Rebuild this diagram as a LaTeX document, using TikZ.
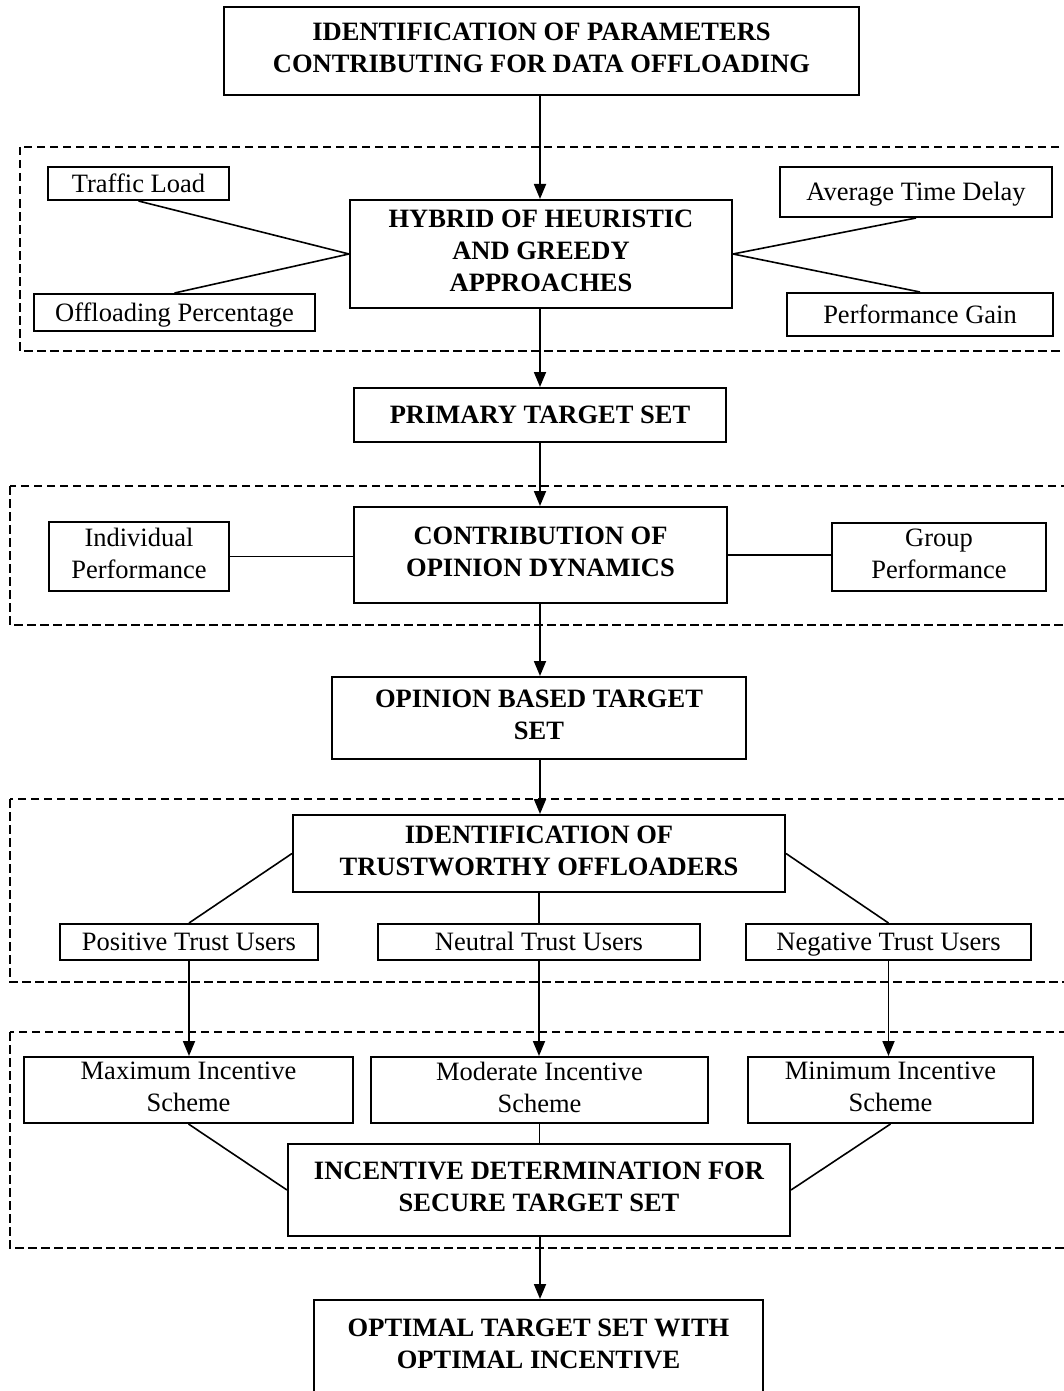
\documentclass[tikz,border=0pt]{standalone}
\usepackage{fontspec}
\setmainfont{Liberation Serif}
\usetikzlibrary{arrows.meta}
\newcommand\vstrut{\rule[-6pt]{0pt}{29.6pt}}
\begin{document}
\begin{tikzpicture}[x=1pt,y=-1pt,
  box/.style={draw,line width=2pt,inner sep=0pt,align=center,
    font=\fontsize{26.5}{32}\selectfont,
    execute at begin node=\vstrut, execute at end node=\vstrut},
  bbox/.style={box,font=\fontsize{26.5}{32}\selectfont\bfseries},
  grp/.style={line width=1.4pt,dash pattern=on 8.5pt off 4.5pt},
  arr/.style={line width=1.8pt,-{Triangle[length=15pt,width=12pt]}},
  ln/.style={line width=1.6pt}]
\useasboundingbox (0,0) rectangle (1064,1391);
\clip (0,0) rectangle (1064,1391);
\coordinate (spine) at (540,0);

% dashed groups
\draw[grp] (20,147) rectangle (1070,351);
\draw[grp] (10,486) rectangle (1070,625);
\draw[grp] (10,799) rectangle (1070,982);
\draw[grp] (10,1032) rectangle (1070,1248);

% main column
\node[bbox,minimum width=635,minimum height=88] (top) at (541.5,51)
  {IDENTIFICATION OF PARAMETERS\\CONTRIBUTING FOR DATA OFFLOADING};
\node[bbox,minimum width=382,minimum height=108] (hyb) at (541,254)
  {HYBRID OF HEURISTIC\\AND GREEDY\\APPROACHES};
\node[bbox,minimum width=372,minimum height=54] (pri) at (540,415)
  {PRIMARY TARGET SET};
\node[bbox,minimum width=373,minimum height=96] (con) at (540.5,555)
  {CONTRIBUTION OF\\OPINION DYNAMICS};
\node[bbox,minimum width=414,minimum height=82] (opi) at (539,718)
  {OPINION BASED TARGET\\SET};
\node[bbox,minimum width=492,minimum height=77] (id2) at (539,853.5)
  {IDENTIFICATION OF\\TRUSTWORTHY OFFLOADERS};
\node[bbox,minimum width=502,minimum height=92] (inc) at (539,1190)
  {INCENTIVE DETERMINATION FOR\\SECURE TARGET SET};
\node[bbox,minimum width=449,minimum height=94] (fin) at (538.5,1347)
  {OPTIMAL TARGET SET WITH\\OPTIMAL INCENTIVE};

% side boxes
\node[box,minimum width=181,minimum height=33] (tl) at (138.5,183.5) {Traffic Load};
\node[box,minimum width=281,minimum height=37] (op) at (174.5,312.5) {Offloading Percentage};
\node[box,minimum width=272,minimum height=50] (atd) at (916,192) {Average Time Delay};
\node[box,minimum width=266,minimum height=43] (pg) at (920,314.5) {Performance Gain};
\node[box,minimum width=180,minimum height=69] (ind) at (139,556.5) {Individual\\Performance};
\node[box,minimum width=214,minimum height=68] (grpp) at (939,557) {Group\\Performance};
\node[box,minimum width=258,minimum height=36] (pos) at (189,942) {Positive Trust Users};
\node[box,minimum width=322,minimum height=36] (neu) at (539,942) {Neutral Trust Users};
\node[box,minimum width=285,minimum height=36] (neg) at (888.5,942) {Negative Trust Users};
\node[box,minimum width=329,minimum height=66] (max) at (188.5,1090) {Maximum Incentive\\Scheme};
\node[box,minimum width=337,minimum height=66] (mod) at (539.5,1090) {Moderate Incentive\\Scheme};
\node[box,minimum width=285,minimum height=66] (min) at (890.5,1090) {Minimum Incentive\\Scheme};

% arrows along the spine
\draw[arr] (top.south -| spine) -- (hyb.north -| spine);
\draw[arr] (hyb.south -| spine) -- (pri.north -| spine);
\draw[arr] (pri.south -| spine) -- (con.north -| spine);
\draw[arr] (con.south -| spine) -- (opi.north -| spine);
\draw[arr] (opi.south -| spine) -- (id2.north -| spine);
\draw[arr] (inc.south -| spine) -- (fin.north -| spine);
\draw[arr] (pos.south) -- (pos.south |- max.north);
\draw[arr] (neu.south) -- (neu.south |- mod.north);
\draw[arr] (neg.south) -- (neg.south |- min.north);

% plain connectors
\draw[ln] (tl.south) -- (hyb.west);
\draw[ln] (op.north) -- (hyb.west);
\draw[ln] (atd.south) -- (hyb.east);
\draw[ln] (pg.north) -- (hyb.east);
\draw[ln] (ind.east) -- (ind.east -| con.west);
\draw[ln] (con.east) -- (con.east -| grpp.west);
\draw[ln] (id2.west) -- (pos.north);
\draw[ln] (id2.south) -- (neu.north);
\draw[ln] (id2.east) -- (neg.north);
\draw[ln] (max.south) -- (inc.west);
\draw[ln] (mod.south) -- (mod.south |- inc.north);
\draw[ln] (min.south) -- (inc.east);
\end{tikzpicture}
\end{document}
